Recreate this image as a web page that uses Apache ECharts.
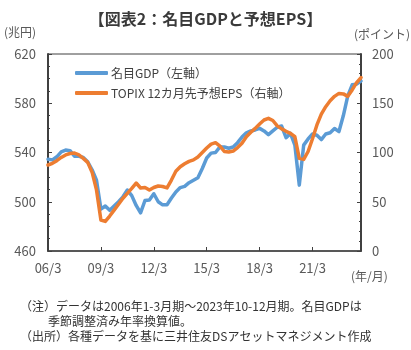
<!DOCTYPE html>
<html>
<head>
<meta charset="utf-8">
<script src="https://cdn.jsdelivr.net/npm/echarts@6/dist/echarts.min.js"></script>
<style>
html,body{margin:0;padding:0;background:#fff;}
#c{width:411px;height:350px;}
</style>
</head>
<body>
<div id="c"></div>
<script>
// Quarter categories 2006Q1 .. 2023Q4 (label format yy/m)
const years = ['06','07','08','09','10','11','12','13','14','15','16','17','18','19','20','21','22','23'];
const months = ['3','6','9','12'];
const categories = [];
years.forEach(y => months.forEach(m => categories.push(y + '/' + m)));

// Nominal GDP (trillion yen, left axis)
const gdp = [
  534.5, 534, 536.5, 540.5, 542, 541.5, 537, 537, 536, 532.5, 526, 517.5,
  494, 496.5, 493, 496.5, 500, 504, 509.5, 505, 497, 491, 501, 501.5,
  506.5, 500, 497.5, 497.5, 503, 508, 511.5, 512.5, 515.5, 517.5, 519.5, 527,
  535.5, 539.5, 540, 544.5, 544.5, 543.5, 544.5, 548, 552.5, 556, 557.5, 558.3,
  559.6, 557.5, 554.5, 557.5, 560.5, 561.5, 552, 555.5, 546, 513.5, 546, 551,
  555, 554, 550.5, 555, 556, 559.5, 557, 570, 586, 595, 595.5, 598
];

// TOPIX 12-month forward EPS (points, right axis)
const eps = [
  87.3, 89, 91.7, 95, 97.5, 99, 99.5, 97.5, 94, 90, 80, 62,
  31.5, 30, 35.5, 41.5, 47.5, 53.5, 58.5, 63.5, 69, 64, 64.5, 62,
  64.5, 66, 65.5, 64, 72, 81, 85.5, 88.5, 91, 92.5, 95.5, 100,
  104.5, 108.5, 110, 106.5, 101, 100.5, 101.5, 105, 109.5, 116, 120.5, 124.5,
  129, 133, 134.7, 132.5, 127, 124, 121.5, 119.5, 116, 94, 93, 101,
  114, 128, 139, 146.5, 152.5, 157, 160, 159.5, 157, 163.5, 171, 176
];

const leftTicks = {min: 460, max: 620, interval: 40};
const rightTicks = {min: 0, max: 200, interval: 50};

const seriesNames = ['名目GDP（左軸）', 'TOPIX 12カ月先予想EPS（右軸）'];
const titleText = '【図表2：名目GDPと予想EPS】';
const notes = [
  '（注）データは2006年1-3月期～2023年10-12月期。名目GDPは',
  '季節調整済み年率換算値。',
  '（出所）各種データを基に三井住友DSアセットマネジメント作成'
];

const FONT = '"Noto Sans CJK JP", "Noto Sans", sans-serif';
const axisColor = '#404040';
const labelColor = '#595959';

const chart = echarts.init(document.getElementById('c'), null, {renderer: 'canvas'});
chart.setOption({
  animation: false,
  backgroundColor: '#fff',
  textStyle: {fontFamily: FONT},
  grid: {left: 48, right: 50, top: 54, bottom: 99, show: true, borderColor: axisColor, borderWidth: 1, containLabel: false},
  legend: {
    orient: 'vertical',
    left: 70,
    top: 61,
    itemWidth: 33,
    itemHeight: 4,
    itemGap: 6,
    icon: 'roundRect',
    data: seriesNames,
    textStyle: {fontFamily: FONT, fontSize: 12, color: '#404040', lineHeight: 14, padding: [0, 0, 0, -2]}
  },
  graphic: [
    {type: 'text', left: 'center', top: 11, style: {text: titleText, font: 'bold 16px ' + FONT, fill: '#3a3a3a'}, x: -4},
    {type: 'text', left: 4, top: 26, style: {text: '(兆円)', font: '12px ' + FONT, fill: labelColor}},
    {type: 'text', left: 354, top: 28, style: {text: '(ポイント)', font: '12px ' + FONT, fill: labelColor}},
    {type: 'text', left: 351, top: 270, style: {text: '(年/月)', font: '12px ' + FONT, fill: labelColor}},
    {type: 'text', left: 20, top: 300, style: {text: notes[0], font: '12px ' + FONT, fill: '#333'}},
    {type: 'text', left: 48, top: 315, style: {text: notes[1], font: '12px ' + FONT, fill: '#333'}},
    {type: 'text', left: 20, top: 330, style: {text: notes[2], font: '12px ' + FONT, fill: '#333'}}
  ],
  xAxis: {
    type: 'category',
    data: categories,
    boundaryGap: false,
    axisLine: {lineStyle: {color: axisColor, width: 1.5}},
    axisTick: {inside: true, interval: 11, length: 4, lineStyle: {color: axisColor}},
    axisLabel: {interval: 11, margin: 11, fontSize: 13, color: labelColor, fontFamily: FONT},
    splitLine: {show: false}
  },
  yAxis: [
    {
      type: 'value', min: leftTicks.min, max: leftTicks.max, interval: leftTicks.interval,
      axisLine: {show: true, lineStyle: {color: axisColor, width: 2}},
      axisTick: {show: true, inside: true, length: 4, lineStyle: {color: axisColor}},
      minorTick: {show: true, splitNumber: 4, length: 2, lineStyle: {color: axisColor}},
      axisLabel: {margin: 12, fontSize: 13, color: labelColor, fontFamily: FONT},
      splitLine: {show: false}
    },
    {
      type: 'value', min: rightTicks.min, max: rightTicks.max, interval: rightTicks.interval,
      position: 'right',
      axisLine: {show: true, lineStyle: {color: axisColor, width: 2}},
      axisTick: {show: true, inside: true, length: 4, lineStyle: {color: axisColor}},
      minorTick: {show: true, splitNumber: 5, length: 2, lineStyle: {color: axisColor}},
      axisLabel: {margin: 11, fontSize: 13, color: labelColor, fontFamily: FONT},
      splitLine: {show: false}
    }
  ],
  series: [
    {
      name: seriesNames[0], type: 'line', yAxisIndex: 0, data: gdp,
      symbol: 'none', lineStyle: {color: '#5B9BD5', width: 3.5, join: 'round', cap: 'round'},
      itemStyle: {color: '#5B9BD5'}, z: 2
    },
    {
      name: seriesNames[1], type: 'line', yAxisIndex: 1, data: eps,
      symbol: 'none', lineStyle: {color: '#ED7D31', width: 3.5, join: 'round', cap: 'round'},
      itemStyle: {color: '#ED7D31'}, z: 3
    }
  ]
});
</script>
</body>
</html>
